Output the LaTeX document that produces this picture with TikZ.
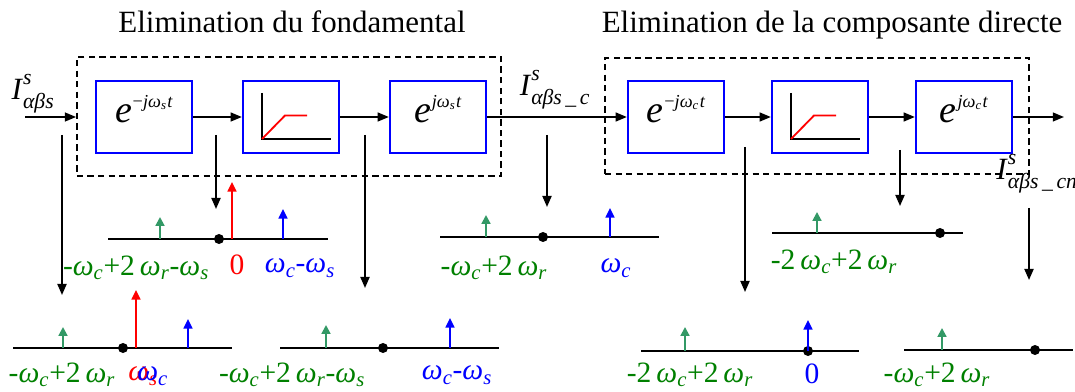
\documentclass[tikz,border=0pt]{standalone}
\usepackage{fontspec}
\setmainfont{Liberation Serif}
\usetikzlibrary{arrows.meta}

\definecolor{impgreen}{RGB}{51,153,102}
\definecolor{labgreen}{RGB}{0,128,0}

\newcommand{\wsub}[1]{\textit{ω}\textsubscript{\textit{#1}}}
\newcommand{\expo}[2]{\raisebox{-4pt}[0pt][0pt]{\textit{e}\kern0.5pt\raisebox{11pt}{\fontsize{13}{15}\selectfont #1\textit{jω}\textsubscript{\textit{#2}}\kern0.5pt\textit{t}}}}
\newcommand{\Ilab}[1]{\textit{I}\rlap{\raisebox{3pt}{\textsuperscript{\textit{s}}}}\raisebox{-3pt}{\textsubscript{\textit{#1}}}}

\tikzset{
    title/.style={anchor=base, inner sep=0pt, font=\fontsize{22}{26}\selectfont},
    frame/.style={draw, line width=1.2pt, dash pattern=on 4.5pt off 3pt, inner sep=0pt},
    blk/.style={draw=blue, line width=1.6pt, minimum width=2.4cm, minimum height=1.8cm,
        inner sep=0pt, font=\fontsize{27}{31}\selectfont},
    sig/.style={line width=1.3pt, -{Triangle[length=2.8mm,width=2.2mm]}},
    tap/.style={line width=1.3pt, -{Triangle[length=2.8mm,width=2.3mm]}},
    axis/.style={line width=1.3pt},
    dot/.style={circle, fill, inner sep=0pt, minimum size=2.5mm},
    gimp/.style={draw=impgreen, line width=1.4pt, -{Triangle[length=2.2mm,width=2.2mm]}},
    rimp/.style={draw=red, line width=1.4pt, -{Triangle[length=2.4mm,width=2.2mm]}},
    bimp/.style={draw=blue, line width=1.4pt, -{Triangle[length=2.4mm,width=2.2mm]}},
    lab/.style={inner sep=0pt, font=\fontsize{21}{25}\selectfont},
    glab/.style={lab, text=labgreen},
    rlab/.style={lab, text=red},
    blab/.style={lab, text=blue},
    ilab/.style={inner sep=0pt, font=\fontsize{22}{26}\selectfont}
}

\begin{document}
\begin{tikzpicture}[x=0.025cm,y=-0.025cm]
    \useasboundingbox (0,0) rectangle (1075,392);

    % titles
    \node (T1) at (292,33) [title] {Elimination du fondamental};
    \node (T2) at (832,33) [title] {Elimination de la composante directe};

    % dashed frames
    \node (D1) at (289,116.5) [frame, minimum width=10.6cm, minimum height=2.975cm] {};
    \node (D2) at (817,116) [frame, minimum width=10.6cm, minimum height=2.9cm] {};

    % blocks
    \node (B1) at (144,117) [blk] {\expo{−}{s}};
    \node (B2) at (291,117) [blk] {};
    \node (B3) at (438,117) [blk] {\expo{}{s}};
    \node (B4) at (676,117) [blk] {\expo{−}{c}};
    \node (B5) at (820,117) [blk] {};
    \node (B6) at (964,117) [blk] {\expo{}{c}};

    % limiter characteristic
    \foreach \b in {B2,B5} {
        \begin{scope}[shift={(\b)}]
            \draw[line width=1.3pt] (-29,-24) -- (-29,22) -- (40,22);
            \draw[red, line width=1.3pt] (-29,22) -- (-6,-1.5) -- (16,-1.5);
        \end{scope}
    }

    % signal path
    \coordinate (in) at (25,117);
    \coordinate (out) at (1064,117);
    \draw[sig] (in) -- (in -| D1.west);
    \draw[sig] (B1) -- (B2);
    \draw[sig] (B2) -- (B3);
    \draw[sig] (B3) -- (B4);
    \draw[sig] (B4) -- (B5);
    \draw[sig] (B5) -- (B6);
    \draw[sig] (B6) -- (out);

    % taps to the spectra
    \foreach \x/\ys/\ye [count=\i] in {62/135/295, 216/135/209, 365/135/288,
            547/135/207, 745/147/292, 900/150/206, 1029/208/280} {
        \coordinate (p\i) at (\x,\ys);
        \coordinate (q\i) at (\x,\ye);
        \draw[tap] (p\i) -- (q\i);
    }

    % signal labels
    \node (I1) at (33,94) [ilab] {\Ilab{αβs}};
    \node (I2) at (555,90) [ilab] {\Ilab{αβs\,\_\,c}};
    \node (I3) at (1037,174) [ilab] {\Ilab{αβs\,\_\,cn}};

    % spectrum 1
    \draw[axis] (108,239) -- (328,239);
    \node[dot] (o1) at (219,239) {};
    \draw[gimp] (160,239) -- (160,217);
    \draw[rimp] (232,239) -- (232,182);
    \draw[bimp] (283,239) -- (283,209);
    \node (g1) at (136,268) [glab] {-\wsub{c}+2\,\wsub{r}-\wsub{s}};
    \node (r1) at (237,265) [rlab] {0};
    \node (b1) at (300,268) [blab] {\wsub{c}-\wsub{s}};

    % spectrum 2
    \draw[axis] (13,348) -- (232,348);
    \node[dot] (o2) at (123,348) {};
    \draw[gimp] (63,348) -- (63,327);
    \draw[rimp] (136,348) -- (136,290);
    \draw[bimp] (188,348) -- (188,319);
    \node (g2) at (62,375) [glab] {-\wsub{c}+2\,\wsub{r}};
    \node (r2) at (128,376) [rlab, anchor=west] {\wsub{s}};
    \node (b2) at (137,376) [blab, anchor=west] {\wsub{c}};

    % spectrum 3
    \draw[axis] (280,348) -- (499,348);
    \node[dot] (o3) at (383,348) {};
    \draw[gimp] (326,348) -- (326,325);
    \draw[bimp] (450,348) -- (450,318);
    \node (g3) at (292,375) [glab] {-\wsub{c}+2\,\wsub{r}-\wsub{s}};
    \node (b3) at (457,375) [blab] {\wsub{c}-\wsub{s}};

    % spectrum 4
    \draw[axis] (440,237) -- (659,237);
    \node[dot] (o4) at (543,237) {};
    \draw[gimp] (486,237) -- (486,215);
    \draw[bimp] (610,237) -- (610,208);
    \node (g4) at (494,268) [glab] {-\wsub{c}+2\,\wsub{r}};
    \node (b4) at (616,268) [blab] {\wsub{c}};

    % spectrum 5
    \draw[axis] (772,233) -- (963,233);
    \node[dot] (o5) at (940,233) {};
    \draw[gimp] (817,233) -- (817,212);
    \node (g5) at (834,262) [glab] {-2\,\wsub{c}+2\,\wsub{r}};

    % spectrum 6
    \draw[axis] (641,351) -- (859,351);
    \node[dot] (o6) at (808,351) {};
    \draw[gimp] (685,351) -- (685,327);
    \draw[bimp] (808,351) -- (808,320);
    \node (g6) at (690,375) [glab] {-2\,\wsub{c}+2\,\wsub{r}};
    \node (b6) at (812,374) [blab] {0};

    % spectrum 7
    \draw[axis] (904,350) -- (1073,350);
    \node[dot] (o7) at (1035,350) {};
    \draw[gimp] (942,350) -- (942,328);
    \node (g7) at (937,375) [glab] {-\wsub{c}+2\,\wsub{r}};

\end{tikzpicture}
\end{document}
